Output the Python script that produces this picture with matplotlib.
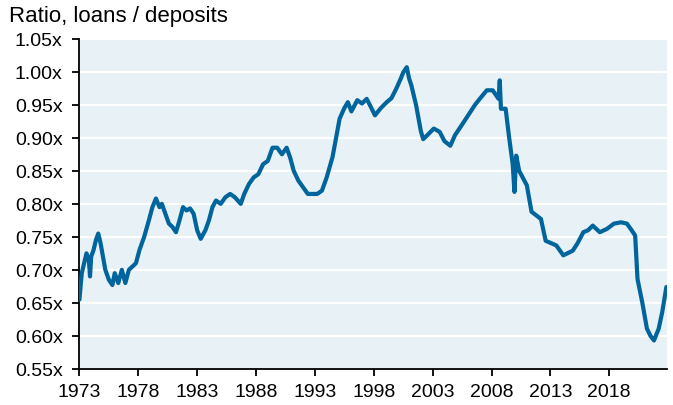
import matplotlib
matplotlib.use("Agg")
import matplotlib.pyplot as plt
from matplotlib.ticker import FuncFormatter

years = [1973.0, 1973.2, 1973.4, 1973.6, 1973.8, 1973.9, 1974.0, 1974.2, 1974.4, 1974.6,
         1974.8, 1975.0, 1975.2, 1975.5, 1975.8, 1976.0, 1976.3, 1976.6, 1976.9, 1977.2,
         1977.5, 1977.8, 1978.1, 1978.5, 1978.9, 1979.2, 1979.5, 1979.8, 1980.0, 1980.3,
         1980.6, 1980.9, 1981.2, 1981.5, 1981.8, 1982.1, 1982.4, 1982.7, 1983.0, 1983.3,
         1983.7, 1984.0, 1984.3, 1984.6, 1985.0, 1985.4, 1985.8, 1986.2, 1986.7, 1987.0,
         1987.4, 1987.8, 1988.2, 1988.6, 1989.0, 1989.4, 1989.8, 1990.2, 1990.6, 1990.9,
         1991.2, 1991.6, 1992.0, 1992.4, 1992.8, 1993.2, 1993.6, 1994.0, 1994.5, 1995.1,
         1995.5, 1995.8, 1996.1, 1996.6, 1997.0, 1997.4, 1997.8, 1998.1, 1998.6, 1999.1,
         1999.5, 1999.9, 2000.3, 2000.5, 2000.8, 2001.0, 2001.2, 2001.6, 2002.0, 2002.2,
         2002.6, 2003.1, 2003.6, 2004.0, 2004.5, 2004.9, 2005.5, 2006.2, 2006.6, 2007.0,
         2007.6, 2008.1, 2008.6, 2008.7, 2008.8, 2009.2, 2009.5, 2009.8, 2009.95, 2010.1,
         2010.35, 2011.0, 2011.4, 2012.2, 2012.6, 2013.5, 2014.1,
         2014.9, 2015.3, 2015.8, 2016.2, 2016.6, 2017.2, 2017.8, 2018.4, 2019.0, 2019.5,
         2019.9, 2020.2, 2020.4, 2020.8, 2021.2, 2021.5, 2021.8, 2022.2, 2022.5, 2022.85]
ratio = [0.655, 0.695, 0.710, 0.725, 0.715, 0.690, 0.720, 0.730, 0.745, 0.755,
         0.740, 0.720, 0.700, 0.685, 0.677, 0.695, 0.680, 0.700, 0.680, 0.700,
         0.705, 0.710, 0.730, 0.750, 0.775, 0.795, 0.808, 0.795, 0.800, 0.785,
         0.770, 0.765, 0.757, 0.775, 0.795, 0.790, 0.793, 0.785, 0.760, 0.747,
         0.760, 0.775, 0.795, 0.805, 0.800, 0.810, 0.815, 0.810, 0.800, 0.815,
         0.830, 0.840, 0.845, 0.860, 0.865, 0.885, 0.885, 0.875, 0.885, 0.870,
         0.850, 0.835, 0.825, 0.815, 0.815, 0.815, 0.820, 0.840, 0.871, 0.929,
         0.945, 0.954, 0.940, 0.957, 0.952, 0.959, 0.945, 0.934, 0.945, 0.954,
         0.960, 0.974, 0.990, 0.999, 1.007, 0.990, 0.979, 0.949, 0.910, 0.898,
         0.905, 0.914, 0.909, 0.895, 0.888, 0.904, 0.920, 0.939, 0.950, 0.959,
         0.972, 0.972, 0.959, 0.987, 0.944, 0.944, 0.900, 0.860, 0.818, 0.873,
         0.850, 0.828, 0.788, 0.777, 0.744, 0.737, 0.722,
         0.729, 0.740, 0.757, 0.760, 0.767, 0.757, 0.762, 0.770, 0.772, 0.770,
         0.760, 0.752, 0.686, 0.651, 0.611, 0.600, 0.593, 0.611, 0.636, 0.674]

x_ticks = [1973, 1978, 1983, 1988, 1993, 1998, 2003, 2008, 2013, 2018]
y_ticks = [0.55, 0.60, 0.65, 0.70, 0.75, 0.80, 0.85, 0.90, 0.95, 1.00, 1.05]

plt.rcParams['font.family'] = ['Liberation Sans', 'DejaVu Sans']

fig = plt.figure(figsize=(6.73, 4.06), dpi=100)
ax = fig.add_axes([0.118, 0.089, 0.873, 0.813])
ax.set_facecolor('#e8f1f5')
for y in y_ticks:
    ax.axhline(y, color='white', lw=1.6, zorder=1)
ax.plot(years, ratio, color='#00659c', lw=3.0, zorder=3,
        solid_joinstyle='round', solid_capstyle='round')

ax.set_xlim(1973, 2022.9)
ax.set_ylim(0.55, 1.05)
ax.set_xticks(x_ticks)
ax.set_yticks(y_ticks)
ax.yaxis.set_major_formatter(FuncFormatter(lambda v, p: f"{v:.2f}x"))
ax.tick_params(axis='both', labelsize=14, length=5, width=1.3, direction='out',
               colors='black')
ax.tick_params(axis='y', pad=7)
ax.tick_params(axis='x', pad=5)
for s in ['top', 'right']:
    ax.spines[s].set_visible(False)
for s in ['left', 'bottom']:
    ax.spines[s].set_linewidth(1.3)
    ax.spines[s].set_color('black')

fig.text(0.013, 0.985, "Ratio, loans / deposits", fontsize=16, ha='left', va='top')

fig.savefig('out.png', dpi=100)
